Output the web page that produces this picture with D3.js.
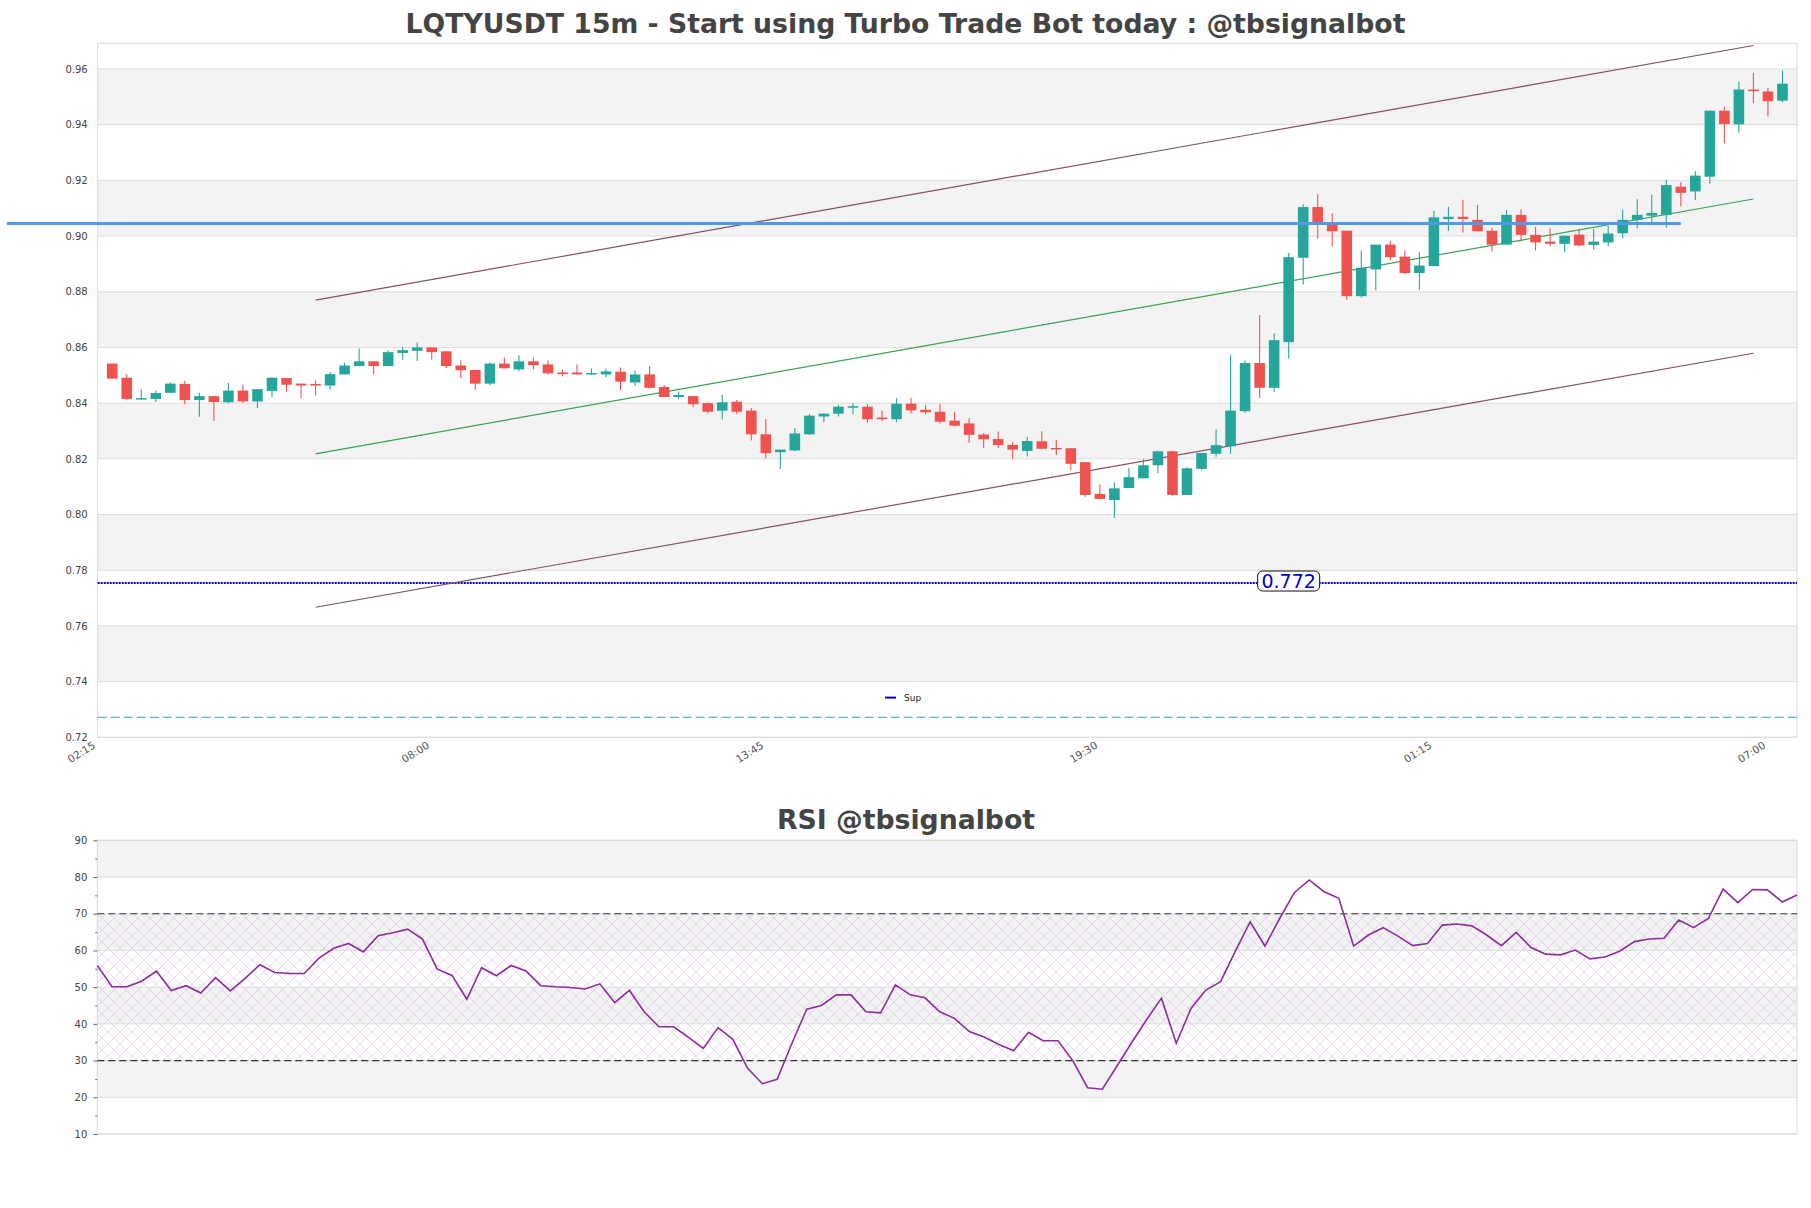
<!DOCTYPE html>
<html>
<head>
<meta charset="utf-8">
<script src="https://cdn.jsdelivr.net/npm/d3@7"></script>
<style>
  body { margin: 0; background: #fff; }
  svg text { font-family: "DejaVu Sans", sans-serif; }
</style>
</head>
<body>
<div id="chart"></div>
<script>
// Candles, 15m bars from 02:30 to 07:15
var openPrices = [0.8542,0.8491,0.8415,0.8415,0.8437,0.8469,0.8411,0.8425,0.8403,0.8445,
  0.8406,0.8444,0.8490,0.8470,0.8469,0.8463,0.8503,0.8533,0.8550,0.8533,
  0.8580,0.8588,0.8600,0.8586,0.8535,0.8519,0.8470,0.8542,0.8521,0.8550,
  0.8539,0.8510,0.8510,0.8503,0.8503,0.8513,0.8474,0.8503,0.8458,0.8422,
  0.8425,0.8400,0.8373,0.8405,0.8373,0.8288,0.8224,0.8230,0.8288,0.8352,
  0.8362,0.8387,0.8387,0.8348,0.8342,0.8398,0.8376,0.8369,0.8337,0.8327,
  0.8287,0.8271,0.8250,0.8228,0.8263,0.8239,0.8238,0.8188,0.8074,0.8052,
  0.8095,0.8130,0.8177,0.8227,0.8070,0.8164,0.8218,0.8245,0.8371,0.8544,
  0.8455,0.8619,0.8922,0.9104,0.9046,0.9019,0.8784,0.8880,0.8969,0.8926,
  0.8867,0.8892,0.9061,0.9069,0.9058,0.9019,0.8969,0.9076,0.9004,0.8980,
  0.8972,0.9005,0.8968,0.8977,0.9010,0.9058,0.9073,0.9076,0.9177,0.9160,
  0.9213,0.9450,0.9401,0.9526,0.9519,0.9486];
var highPrices = [0.8542,0.8504,0.8449,0.8445,0.8474,0.8480,0.8436,0.8425,0.8472,0.8467,
  0.8450,0.8494,0.8490,0.8470,0.8482,0.8512,0.8545,0.8596,0.8550,0.8590,
  0.8602,0.8618,0.8600,0.8587,0.8553,0.8519,0.8546,0.8564,0.8572,0.8564,
  0.8553,0.8521,0.8539,0.8524,0.8524,0.8528,0.8517,0.8533,0.8465,0.8442,
  0.8425,0.8402,0.8430,0.8411,0.8382,0.8343,0.8233,0.8311,0.8361,0.8364,
  0.8394,0.8400,0.8396,0.8373,0.8418,0.8418,0.8394,0.8398,0.8369,0.8346,
  0.8293,0.8298,0.8260,0.8279,0.8299,0.8268,0.8238,0.8188,0.8107,0.8116,
  0.8167,0.8198,0.8229,0.8229,0.8170,0.8221,0.8306,0.8572,0.8553,0.8716,
  0.8651,0.8939,0.9114,0.9150,0.9082,0.9019,0.8948,0.8969,0.8983,0.8948,
  0.8942,0.9091,0.9105,0.9130,0.9112,0.9029,0.9093,0.9096,0.9033,0.9028,
  0.9001,0.9025,0.9025,0.9037,0.9094,0.9132,0.9148,0.9201,0.9193,0.9233,
  0.9450,0.9464,0.9554,0.9586,0.9531,0.9594];
var lowPrices = [0.8488,0.8410,0.8412,0.8404,0.8437,0.8396,0.8351,0.8336,0.8399,0.8400,
  0.8382,0.8422,0.8440,0.8418,0.8426,0.8448,0.8503,0.8533,0.8503,0.8533,
  0.8556,0.8551,0.8556,0.8526,0.8490,0.8447,0.8464,0.8525,0.8514,0.8521,
  0.8503,0.8496,0.8503,0.8501,0.8493,0.8447,0.8461,0.8453,0.8422,0.8415,
  0.8385,0.8363,0.8341,0.8360,0.8266,0.8202,0.8163,0.8227,0.8286,0.8331,
  0.8352,0.8360,0.8329,0.8335,0.8331,0.8363,0.8360,0.8327,0.8317,0.8258,
  0.8238,0.8239,0.8198,0.8208,0.8236,0.8214,0.8160,0.8064,0.8054,0.7988,
  0.8095,0.8130,0.8149,0.8067,0.8070,0.8158,0.8207,0.8218,0.8365,0.8419,
  0.8441,0.8559,0.8826,0.8990,0.8963,0.8772,0.8779,0.8805,0.8912,0.8864,
  0.8807,0.8892,0.9019,0.9013,0.9017,0.8945,0.8969,0.8981,0.8948,0.8963,
  0.8942,0.8963,0.8951,0.8962,0.8992,0.9027,0.9047,0.9030,0.9106,0.9129,
  0.9189,0.9333,0.9371,0.9477,0.9429,0.9480];
var closePrices = [0.8488,0.8415,0.8418,0.8436,0.8470,0.8411,0.8425,0.8404,0.8445,0.8406,
  0.8450,0.8491,0.8466,0.8463,0.8463,0.8504,0.8535,0.8550,0.8533,0.8583,
  0.8590,0.8600,0.8583,0.8533,0.8518,0.8470,0.8542,0.8525,0.8550,0.8536,
  0.8507,0.8504,0.8503,0.8508,0.8514,0.8477,0.8503,0.8455,0.8422,0.8429,
  0.8396,0.8369,0.8403,0.8369,0.8288,0.8220,0.8233,0.8291,0.8355,0.8362,
  0.8387,0.8389,0.8342,0.8342,0.8398,0.8374,0.8367,0.8333,0.8319,0.8286,
  0.8270,0.8249,0.8233,0.8264,0.8236,0.8236,0.8182,0.8070,0.8056,0.8094,
  0.8134,0.8177,0.8227,0.8070,0.8166,0.8221,0.8249,0.8373,0.8544,0.8455,
  0.8626,0.8924,0.9104,0.9048,0.9017,0.8784,0.8886,0.8969,0.8924,0.8867,
  0.8894,0.9067,0.9069,0.9061,0.9017,0.8969,0.9076,0.9004,0.8977,0.8972,
  0.9001,0.8966,0.8980,0.9009,0.9058,0.9076,0.9083,0.9183,0.9155,0.9217,
  0.9450,0.9402,0.9526,0.9520,0.9484,0.9547];

var rsiValues = [55.9,50.1,50.1,51.6,54.4,49.1,50.4,48.4,52.6,49.0,
  52.4,56.1,54.0,53.7,53.7,57.9,60.6,61.9,59.6,64.0,
  64.8,65.8,63.1,54.9,53.2,46.7,55.3,53.1,55.9,54.4,
  50.4,50.1,49.9,49.5,50.9,45.8,49.1,43.3,39.2,39.2,
  36.3,33.3,39.0,35.8,27.9,23.7,24.9,34.7,44.0,45.0,
  47.9,47.9,43.3,43.0,50.6,47.9,47.1,43.3,41.5,37.9,
  36.4,34.4,32.7,37.7,35.4,35.4,30.0,22.6,22.2,28.6,
  35.0,41.2,47.0,34.7,44.2,49.2,51.5,59.8,67.8,61.2,
  68.7,75.8,79.2,76.0,74.2,61.2,64.2,66.2,63.9,61.3,
  61.9,66.9,67.2,66.7,64.2,61.3,64.9,60.8,59.0,58.8,
  60.1,57.7,58.2,59.8,62.4,63.1,63.3,68.3,66.2,68.7,
  76.7,73.0,76.6,76.5,73.2,75.1];

// Axis ticks
var xTickIndex = [-1, 22, 45, 68, 91, 114];
var xTickLabels = ['02:15', '08:00', '13:45', '19:30', '01:15', '07:00'];
var priceTicks = [0.72, 0.74, 0.76, 0.78, 0.80, 0.82, 0.84, 0.86, 0.88, 0.90, 0.92, 0.94, 0.96];
var rsiTicks = [10, 15, 20, 25, 30, 35, 40, 45, 50, 55, 60, 65, 70, 75, 80, 85, 90];

// Channel lines: [start index, start price, end index, end price]
var channelUpper = [14, 0.8770, 113, 0.9684];
var channelMiddle = [14, 0.8218, 113, 0.9133];
var channelLower = [14, 0.7667, 113, 0.8579];

// Levels
var resistanceLine = [-7.25, 0.9045, 108, 0.9045];
var supportLevel = 0.7754;
var supportLabel = '0.772';
var lowerLevel = 0.7272;
var rsiLevels = [70, 30];

var svgWidth = 1811;
var svgHeight = 1208;

var main = { left: 97.7, right: 1797, top: 43.3, bottom: 737.3 };
var lower = { left: 97.3, right: 1797, top: 840.3, bottom: 1134 };

var svg = d3.select('#chart')
  .append('svg')
  .attr('width', svgWidth)
  .attr('height', svgHeight);

var defs = svg.append('defs');
var hatch = defs.append('pattern')
  .attr('id', 'hatch')
  .attr('patternUnits', 'userSpaceOnUse')
  .attr('width', 12)
  .attr('height', 12);
hatch.append('path')
  .attr('d', 'M0,0 L12,12 M12,0 L0,12')
  .attr('stroke', '#cfa9dd')
  .attr('stroke-width', 0.7)
  .attr('opacity', 0.6);

// Scales
var x = d3.scaleLinear().domain([-1, 116]).range([main.left, main.right]);
var y = d3.scaleLinear().domain([0.72, 0.9692]).range([main.bottom, main.top]);
var xr = d3.scaleLinear().domain([0, 115]).range([lower.left, lower.right]);
var yr = d3.scaleLinear().domain([10, 90]).range([lower.bottom, lower.top]);

// ---------- Price panel ----------
svg.append('rect')
  .attr('x', main.left).attr('y', main.top)
  .attr('width', main.right - main.left).attr('height', main.bottom - main.top)
  .attr('fill', '#fff');

svg.selectAll('.band')
  .data(priceTicks.slice(0, -1))
  .enter()
  .append('rect')
  .attr('x', main.left)
  .attr('y', d => y(d + 0.02))
  .attr('width', main.right - main.left)
  .attr('height', d => y(d) - y(d + 0.02))
  .attr('fill', (d, i) => i % 2 === 1 ? '#f3f3f3' : '#fff');

svg.selectAll('.grid')
  .data(priceTicks)
  .enter()
  .append('line')
  .attr('x1', main.left).attr('x2', main.right)
  .attr('y1', d => y(d)).attr('y2', d => y(d))
  .attr('stroke', '#dddddd');

svg.append('rect')
  .attr('x', main.left).attr('y', main.top)
  .attr('width', main.right - main.left).attr('height', main.bottom - main.top)
  .attr('fill', 'none')
  .attr('stroke', '#d9d9d9');

// Axes
var yAxis = svg.append('g')
  .attr('transform', `translate(${main.left},0)`)
  .call(d3.axisLeft(y).tickValues(priceTicks).tickFormat(d3.format('.2f')).tickSize(0).tickPadding(10));
yAxis.select('.domain').remove();
yAxis.selectAll('text').attr('font-size', 10).attr('fill', '#444');

var xAxis = svg.append('g')
  .attr('transform', `translate(0,${main.bottom})`)
  .call(d3.axisBottom(x).tickValues(xTickIndex).tickFormat((d, i) => xTickLabels[i]).tickSize(0));
xAxis.select('.domain').remove();
xAxis.selectAll('text')
  .attr('font-size', 10.5)
  .attr('fill', '#555')
  .attr('y', 0)
  .attr('dy', 0)
  .attr('text-anchor', 'end')
  .attr('transform', 'translate(-2,10) rotate(-32)');

// Levels
svg.append('line')
  .attr('x1', main.left).attr('x2', main.right)
  .attr('y1', y(lowerLevel)).attr('y2', y(lowerLevel))
  .attr('stroke', '#27a3c8')
  .attr('stroke-width', 1.2)
  .attr('stroke-dasharray', '9,4');

svg.append('line')
  .attr('x1', main.left).attr('x2', main.right)
  .attr('y1', y(supportLevel)).attr('y2', y(supportLevel))
  .attr('stroke', '#0000c8')
  .attr('stroke-width', 2)
  .attr('stroke-dasharray', '2,1');

// Channel
var channels = [
  { c: channelUpper, color: '#83506a' },
  { c: channelMiddle, color: '#35a453' },
  { c: channelLower, color: '#83506a' }
];
svg.selectAll('.channel')
  .data(channels)
  .enter()
  .append('line')
  .attr('x1', d => x(d.c[0])).attr('y1', d => y(d.c[1]))
  .attr('x2', d => x(d.c[2])).attr('y2', d => y(d.c[3]))
  .attr('stroke', d => d.color)
  .attr('stroke-width', 1.2);

// Candles
var candles = openPrices.map((o, i) => ({
  i: i, o: o, h: highPrices[i], l: lowPrices[i], c: closePrices[i]
}));
var upColor = '#26a69a';
var downColor = '#ef5350';
var bodyWidth = 10.6;

var candleGroup = svg.append('g');
candleGroup.selectAll('.wick')
  .data(candles)
  .enter()
  .append('line')
  .attr('x1', d => x(d.i)).attr('x2', d => x(d.i))
  .attr('y1', d => y(d.h)).attr('y2', d => y(d.l))
  .attr('stroke', d => d.c >= d.o ? upColor : downColor)
  .attr('stroke-width', 1.1);

candleGroup.selectAll('.body')
  .data(candles)
  .enter()
  .append('rect')
  .attr('x', d => x(d.i) - bodyWidth / 2)
  .attr('y', d => y(Math.max(d.o, d.c)))
  .attr('width', bodyWidth)
  .attr('height', d => Math.max(1.5, Math.abs(y(d.o) - y(d.c))))
  .attr('fill', d => d.c >= d.o ? upColor : downColor);

// Resistance line
svg.append('line')
  .attr('x1', x(resistanceLine[0])).attr('y1', y(resistanceLine[1]))
  .attr('x2', x(resistanceLine[2])).attr('y2', y(resistanceLine[3]))
  .attr('stroke', '#4f9be8')
  .attr('stroke-width', 3);

// Support label
var labelX = x(81);
var labelY = y(supportLevel) - 2;
svg.append('rect')
  .attr('x', labelX - 31).attr('y', labelY - 10)
  .attr('width', 62).attr('height', 20)
  .attr('rx', 5)
  .attr('fill', '#fff')
  .attr('stroke', '#111')
  .attr('stroke-width', 1);
svg.append('text')
  .attr('x', labelX).attr('y', labelY)
  .attr('dy', '0.36em')
  .attr('text-anchor', 'middle')
  .attr('font-size', 19)
  .attr('fill', '#0000c8')
  .text(supportLabel);

// Legend
svg.append('line')
  .attr('x1', 885).attr('x2', 896)
  .attr('y1', 697.6).attr('y2', 697.6)
  .attr('stroke', '#0000c8')
  .attr('stroke-width', 2);
svg.append('text')
  .attr('x', 904).attr('y', 700.5)
  .attr('font-size', 9)
  .attr('fill', '#222')
  .text('Sup');

// Title
svg.append('text')
  .attr('x', 905.5).attr('y', 32.7)
  .attr('text-anchor', 'middle')
  .attr('font-size', 26.7)
  .attr('font-weight', 'bold')
  .attr('fill', '#444')
  .text('LQTYUSDT 15m - Start using Turbo Trade Bot today : @tbsignalbot');

// ---------- RSI panel ----------
var rsiBands = d3.range(10, 90, 10);
svg.selectAll('.rband')
  .data(rsiBands)
  .enter()
  .append('rect')
  .attr('x', lower.left)
  .attr('y', d => yr(d + 10))
  .attr('width', lower.right - lower.left)
  .attr('height', d => yr(d) - yr(d + 10))
  .attr('fill', (d, i) => i % 2 === 1 ? '#f3f3f3' : '#fff');

svg.append('rect')
  .attr('x', lower.left)
  .attr('y', yr(rsiLevels[0]))
  .attr('width', lower.right - lower.left)
  .attr('height', yr(rsiLevels[1]) - yr(rsiLevels[0]))
  .attr('fill', 'url(#hatch)');

svg.selectAll('.rgrid')
  .data(d3.range(10, 91, 10))
  .enter()
  .append('line')
  .attr('x1', lower.left).attr('x2', lower.right)
  .attr('y1', d => yr(d)).attr('y2', d => yr(d))
  .attr('stroke', '#dddddd');

svg.append('rect')
  .attr('x', lower.left).attr('y', lower.top)
  .attr('width', lower.right - lower.left).attr('height', lower.bottom - lower.top)
  .attr('fill', 'none')
  .attr('stroke', '#d9d9d9');

svg.selectAll('.rlevel')
  .data(rsiLevels)
  .enter()
  .append('line')
  .attr('x1', lower.left).attr('x2', lower.right)
  .attr('y1', d => yr(d)).attr('y2', d => yr(d))
  .attr('stroke', '#333')
  .attr('stroke-width', 1.2)
  .attr('stroke-dasharray', '7,4');

var rAxis = svg.append('g')
  .attr('transform', `translate(${lower.left},0)`)
  .call(d3.axisLeft(yr).tickValues(rsiTicks).tickFormat(d => d % 10 === 0 ? d : '').tickSize(4).tickPadding(6));
rAxis.select('.domain').remove();
rAxis.selectAll('.tick line')
  .attr('stroke', '#666')
  .attr('x2', d => d % 10 === 0 ? -4 : -2);
rAxis.selectAll('text').attr('font-size', 10).attr('fill', '#444');

var rsiLine = d3.line()
  .x((d, i) => xr(i))
  .y(d => yr(d));

svg.append('path')
  .datum(rsiValues)
  .attr('d', rsiLine)
  .attr('fill', 'none')
  .attr('stroke', '#8e2c9e')
  .attr('stroke-width', 1.6);

svg.append('text')
  .attr('x', 906).attr('y', 829)
  .attr('text-anchor', 'middle')
  .attr('font-size', 26.7)
  .attr('font-weight', 'bold')
  .attr('fill', '#444')
  .text('RSI @tbsignalbot');
</script>
</body>
</html>
